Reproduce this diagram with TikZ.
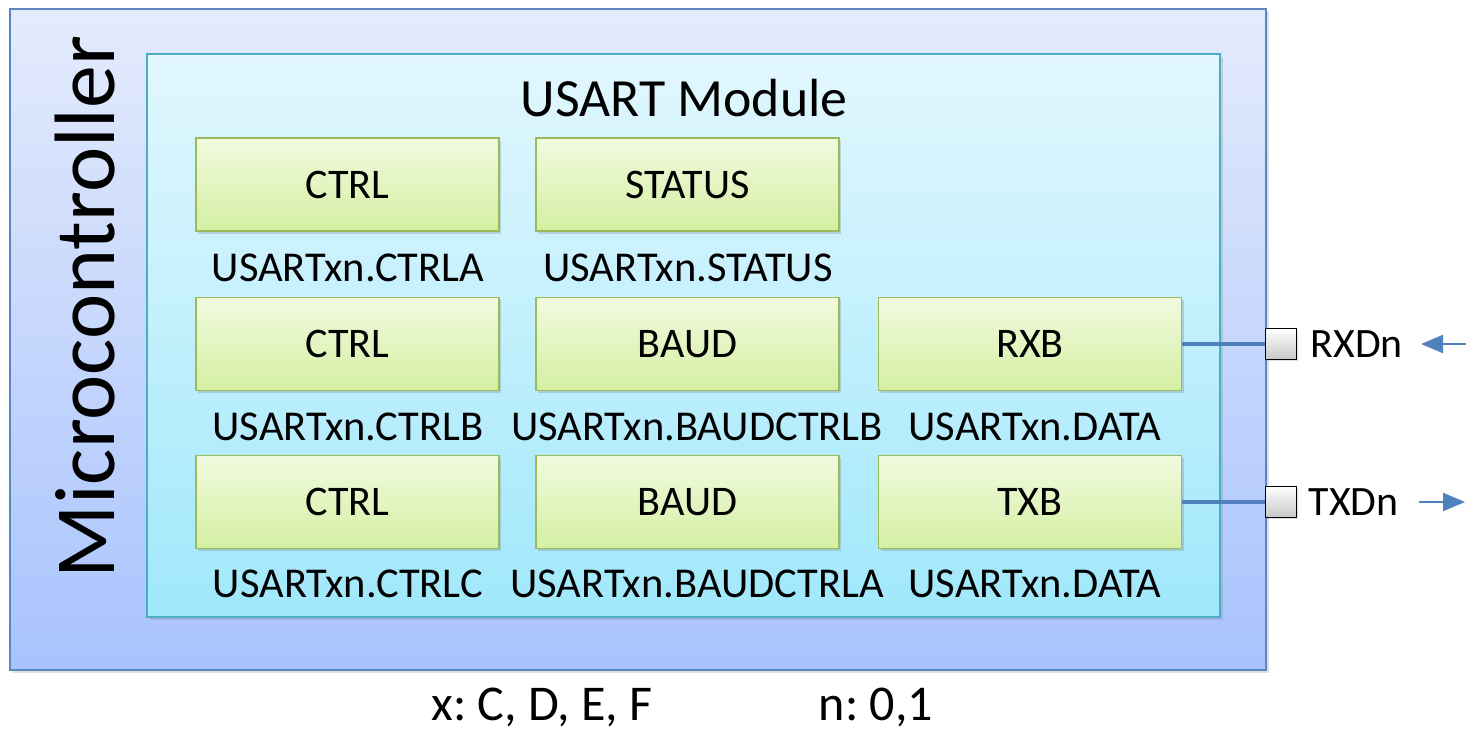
\documentclass[tikz,border=0pt]{standalone}
\usepackage{fontspec}
\setmainfont{Carlito}
\frenchspacing
\usetikzlibrary{
    arrows.meta,
    shadows,
    positioning
}
\definecolor{mcuedge}{HTML}{5A86C2}
\definecolor{mcutop}{HTML}{E4EBFC}
\definecolor{mcubot}{HTML}{A8C3FD}
\definecolor{modedge}{HTML}{4BACC6}
\definecolor{modtop}{HTML}{E2F7FE}
\definecolor{modbot}{HTML}{A0E8FB}
\definecolor{regedge}{HTML}{9BBB59}
\definecolor{regtop}{HTML}{F1FADF}
\definecolor{regbot}{HTML}{D4EFA2}
\definecolor{wireblue}{HTML}{4F81BD}
\tikzset{
    mcu/.style={draw=mcuedge, line width=0.9pt, top color=mcutop, bottom color=mcubot,
        minimum width=25.12cm, minimum height=13.22cm, inner sep=0pt,
        drop shadow={shadow xshift=1.5pt, shadow yshift=-1.5pt, opacity=0.25}},
    usart/.style={draw=modedge, line width=0.9pt, top color=modtop, bottom color=modbot,
        minimum width=21.46cm, minimum height=11.26cm, inner sep=0pt,
        drop shadow={shadow xshift=1.5pt, shadow yshift=-1.5pt, opacity=0.25}},
    reg/.style={draw=regedge, line width=0.9pt, top color=regtop, bottom color=regbot,
        minimum width=6.06cm, minimum height=1.86cm, inner sep=0pt,
        font=\fontsize{24}{26}\selectfont,
        drop shadow={shadow xshift=1.2pt, shadow yshift=-1.5pt, opacity=0.3}},
    regname/.style={font=\fontsize{24.2}{26}\selectfont, inner sep=0pt},
    pin/.style={draw=black, line width=1.1pt, top color=white, bottom color=black!22,
        minimum size=0.62cm, inner sep=0pt,
        drop shadow={shadow xshift=1pt, shadow yshift=-1pt, opacity=0.25}},
    pinname/.style={font=\fontsize{23.8}{26}\selectfont, inner sep=0pt},
    note/.style={font=\fontsize{28.5}{30}\selectfont, inner sep=0pt, anchor=base},
    wire/.style={draw=wireblue, line width=2.6pt},
    sig/.style={draw=wireblue, line width=1.2pt, -{Triangle[length=0.44cm, width=0.36cm]}}
}

\begin{document}
\begin{tikzpicture}[x=0.02cm, y=-0.02cm]
    \useasboundingbox (0, 0) rectangle (1466, 734);
    \node[mcu] (mcu) at (638, 339.5) {};
    \node[rotate=90, font=\fontsize{48.8}{50}\selectfont, inner sep=0pt] (mcuname) at (85, 307) {Microcontroller};
    \node[usart] (usart) at (683.5, 335.5) {};
    \node[font=\fontsize{30.6}{32}\selectfont, inner sep=0pt] (usartname) at (684, 98) {USART Module};

    % first row
    \node[reg] (ctrla) at (347.5, 184.5) {CTRL};
    \node[reg] (status) at (687.5, 184.5) {STATUS};
    \node[regname] (ctrlaname) at (348, 268) {USARTxn.CTRLA};
    \node[regname] (statusname) at (688, 268) {USARTxn.STATUS};

    % second row
    \node[reg] (ctrlb) at (347.5, 344) {CTRL};
    \node[reg] (baudb) at (687.5, 344) {BAUD};
    \node[reg] (rxb) at (1030, 344) {RXB};
    \node[regname] (ctrlbname) at (348, 427) {USARTxn.CTRLB};
    \node[regname] (baudbname) at (697, 427) {USARTxn.BAUDCTRLB};
    \node[regname] (rxbname) at (1035, 427) {USARTxn.DATA};

    % third row
    \node[reg] (ctrlc) at (347.5, 502) {CTRL};
    \node[reg] (bauda) at (687.5, 502) {BAUD};
    \node[reg] (txb) at (1030, 502) {TXB};
    \node[regname] (ctrlcname) at (348, 584) {USARTxn.CTRLC};
    \node[regname] (baudaname) at (697, 584) {USARTxn.BAUDCTRLA};
    \node[regname] (txbname) at (1035, 584) {USARTxn.DATA};

    % pins
    \node[pin] (rxpin) at (1281, 344) {};
    \node[pin] (txpin) at (1281, 502) {};
    \draw[wire] (rxb.east) -- (rxpin.west);
    \draw[wire] (txb.east) -- (txpin.west);
    \node[pinname, right=0.26cm of rxpin] (rxname) {RXDn};
    \node[pinname, right=0.22cm of txpin] (txname) {TXDn};
    \coordinate (rxfrom) at (1466, 344);
    \coordinate (rxto) at (1421, 344);
    \coordinate (txfrom) at (1419, 502);
    \coordinate (txto) at (1465, 502);
    \draw[sig] (rxfrom) -- (rxto);
    \draw[sig] (txfrom) -- (txto);

    \node[note] (xnote) at (542, 720) {x: C, D, E, F};
    \node[note] (nnote) at (876, 720) {n: 0,1};
\end{tikzpicture}
\end{document}
